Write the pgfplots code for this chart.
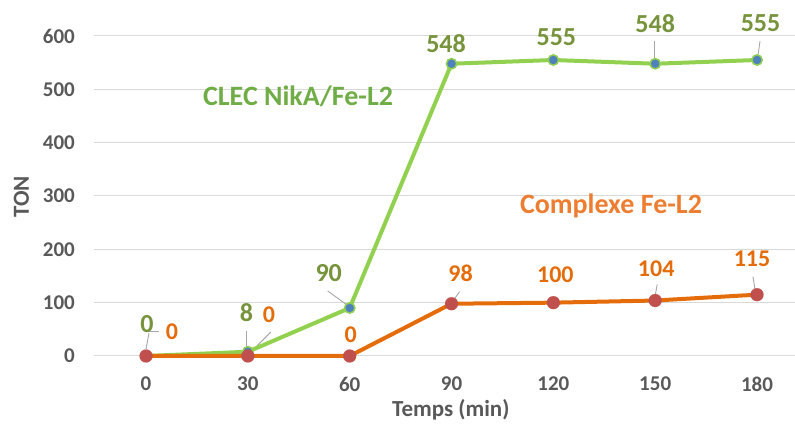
\documentclass[border=0pt]{standalone}
\usepackage{pgfplots}
\pgfplotsset{compat=1.18}
\usepackage{fontspec}
\setmainfont{Carlito}
\definecolor{gridc}{HTML}{D9D9D9}
\definecolor{tickc}{HTML}{595959}
\definecolor{lgreen}{HTML}{92D050}
\definecolor{mblue}{HTML}{4F81BD}
\definecolor{lorange}{HTML}{E46C0A}
\definecolor{mred}{HTML}{C0504D}
\definecolor{dgreen}{HTML}{77933C}
\definecolor{tgreen}{HTML}{70AD47}
\definecolor{torange}{HTML}{ED7D31}
\definecolor{leader}{HTML}{A6A6A6}
\newcommand{\glab}[4]{\node[font=\fontsize{26}{30}\selectfont\bfseries, text=dgreen, inner sep=0pt] at ([shift={(#3pt,#4pt)}]axis cs:#1,#2) {#2};}
\newcommand{\olab}[4]{\node[font=\fontsize{24}{28}\selectfont\bfseries, text=lorange, inner sep=0pt] at ([shift={(#3pt,#4pt)}]axis cs:#1,#2) {#2};}
\newcommand{\lead}[6]{\draw[leader, line width=0.9pt] ([shift={(#3pt,#4pt)}]axis cs:#1,#2) -- ([shift={(#5pt,#6pt)}]axis cs:#1,#2);}
\begin{document}
\begin{tikzpicture}
\useasboundingbox (0,0) rectangle (795pt,430pt);
\begin{axis}[
  at={(94pt,74pt)}, anchor=south west,
  scale only axis, width=701pt, height=320pt,
  xmin=-0.511, xmax=6.373, ymin=0, ymax=600,
  clip=false,
  axis line style={draw=none},
  major tick length=0pt,
  xtick={0,1,2,3,4,5,6}, xticklabels={0,30,60,90,120,150,180},
  ytick={0,100,200,300,400,500,600}, yticklabels={0,100,200,300,400,500,600},
  ymajorgrids, grid style={gridc, line width=1pt},
  tick label style={font=\fontsize{21}{25}\selectfont\bfseries, text=tickc, inner sep=0pt},
  yticklabel style={anchor=east, xshift=-19pt},
  xticklabel style={anchor=center, yshift=-28pt},
  xlabel={Temps (min)},
  xlabel style={at={(axis description cs:0.509,-0.1897)}, anchor=base, font=\fontsize{23}{27}\selectfont\bfseries, text=tickc, inner sep=0pt},
  ylabel={TON},
  ylabel style={at={(axis description cs:-0.1034,0.497)}, anchor=center, rotate=0, font=\fontsize{23}{27}\selectfont\bfseries, text=tickc, inner sep=0pt},
]
% leader lines
\lead{0}{0}{3}{23}{0}{7}
\lead{0}{0}{13}{25}{3}{25}
\lead{1}{8}{-1}{21}{-1}{3}
\lead{1}{0}{23}{24}{9}{10}
\lead{2}{90}{-22}{17}{-4}{4}
\lead{3}{98}{8}{12}{1}{2}
\lead{5}{548}{-1}{23}{-1}{6}
\lead{6}{555}{3}{19}{1}{5}
\lead{5}{104}{2}{16}{0}{5}
\lead{6}{115}{-4}{18}{-2}{5}
% series
\addplot[lgreen, line width=4pt, line join=round, mark=*, mark size=5.2pt,
  mark options={fill=mblue, draw=lgreen, line width=1.5pt}]
  coordinates {(0,0) (1,8) (2,90) (3,548) (4,555) (5,548) (6,555)};
\addplot[lorange, line width=4pt, line join=round, mark=*, mark size=6.5pt,
  mark options={fill=mred, draw=mred, line width=0.1pt}]
  coordinates {(0,0) (1,0) (2,0) (3,98) (4,100) (5,104) (6,115)};
% data labels
\glab{0}{0}{1}{32}
\glab{1}{8}{-1.5}{39}
\glab{2}{90}{-21}{34.5}
\glab{3}{548}{-5.5}{20}
\glab{4}{555}{3}{23}
\glab{5}{548}{0}{40}
\glab{6}{555}{3.5}{37}
\olab{0}{0}{26}{24.5}
\olab{1}{0}{21}{41}
\olab{2}{0}{1}{21.5}
\olab{3}{98}{9}{30}
\olab{4}{100}{2}{27.5}
\olab{5}{104}{1}{32}
\olab{6}{115}{-5}{35.5}
% series names
\node[anchor=base, font=\fontsize{28}{32}\selectfont\bfseries, text=tgreen, inner sep=0pt] at (axis cs:1.493,469.3) {CLEC NikA/Fe-L2};
\node[anchor=base, font=\fontsize{28}{32}\selectfont\bfseries, text=torange, inner sep=0pt] at (axis cs:4.566,268.1) {Complexe Fe-L2};
\end{axis}
\end{tikzpicture}
\end{document}
